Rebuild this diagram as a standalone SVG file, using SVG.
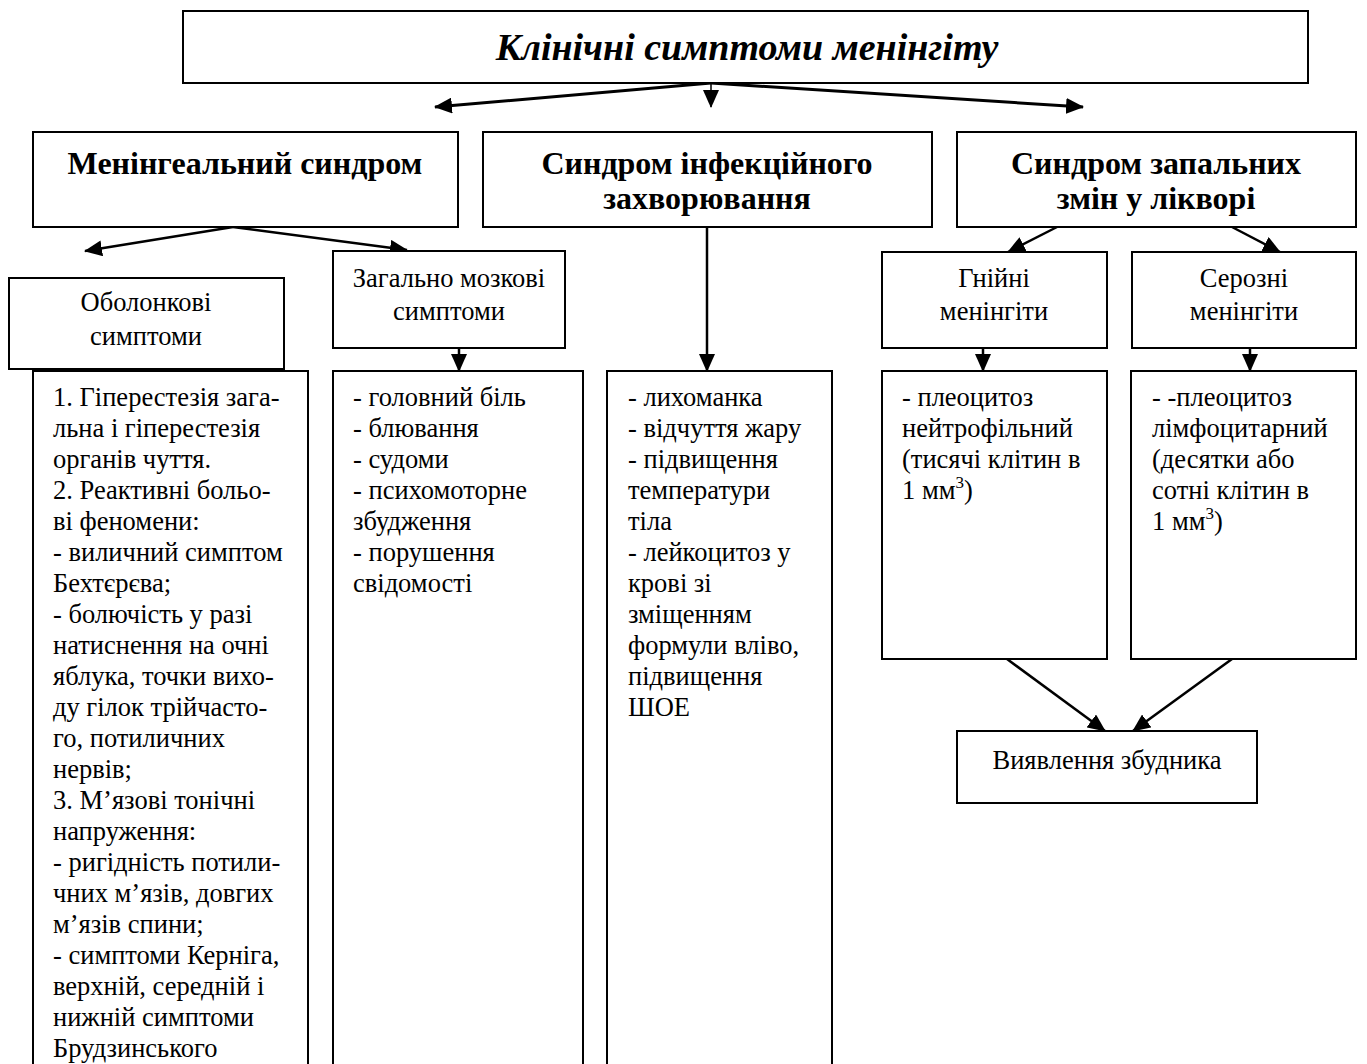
<svg xmlns="http://www.w3.org/2000/svg" width="1367" height="1064" viewBox="0 0 1367 1064">
  <style>
    .box { fill: #ffffff; stroke: #000000; stroke-width: 2; }
    .t { font-family: "Liberation Serif", "Times New Roman", serif; fill: #000000; }
    .title { font-size: 38px; font-weight: bold; font-style: italic; text-anchor: middle; }
    .head { font-size: 32px; font-weight: bold; text-anchor: middle; }
    .lbl { font-size: 26.5px; text-anchor: middle; }
    .body { font-size: 26.5px; }
    .conn { fill: none; stroke: #000000; stroke-width: 2.5; }
    .thin { stroke-width: 1.5; }
    .thick { stroke-width: 3; }
  </style>
  <defs>
    <marker id="arrow" markerUnits="userSpaceOnUse" markerWidth="18" markerHeight="16" refX="17" refY="8" orient="auto">
      <path d="M0,0 L18,8 L0,16 z" fill="#000000"/>
    </marker>
  </defs>

  <rect width="1367" height="1064" fill="#ffffff"/>

  <!-- connectors -->
  <g id="connectors">
    <line class="conn thick" x1="711" y1="83" x2="435" y2="107" marker-end="url(#arrow)"/>
    <line class="conn thin" x1="711" y1="83" x2="711" y2="107" marker-end="url(#arrow)"/>
    <line class="conn thick" x1="711" y1="83" x2="1083" y2="107" marker-end="url(#arrow)"/>

    <line class="conn" x1="233" y1="227" x2="85" y2="251" marker-end="url(#arrow)"/>
    <line class="conn" x1="233" y1="227" x2="407" y2="250" marker-end="url(#arrow)"/>
    <line class="conn" x1="459" y1="348" x2="459" y2="371" marker-end="url(#arrow)"/>

    <line class="conn" x1="707" y1="227" x2="707" y2="371" marker-end="url(#arrow)"/>

    <line class="conn" x1="1057" y1="227" x2="1008" y2="252" marker-end="url(#arrow)"/>
    <line class="conn" x1="1232" y1="227" x2="1280" y2="252" marker-end="url(#arrow)"/>
    <line class="conn" x1="983" y1="348" x2="983" y2="371" marker-end="url(#arrow)"/>
    <line class="conn" x1="1250" y1="348" x2="1250" y2="371" marker-end="url(#arrow)"/>

    <line class="conn" x1="1007" y1="659" x2="1105" y2="731" marker-end="url(#arrow)"/>
    <line class="conn" x1="1232" y1="659" x2="1133" y2="731" marker-end="url(#arrow)"/>
  </g>

  <!-- title -->
  <g id="title">
    <rect class="box" x="183" y="11" width="1125" height="72"/>
    <text class="t title" x="747" y="60">Клінічні симптоми менінгіту</text>
  </g>

  <!-- three syndromes -->
  <g id="meningeal">
    <rect class="box" x="33" y="132" width="425" height="95"/>
    <text class="t head" x="245" y="174">Менінгеальний синдром</text>
  </g>
  <g id="infection">
    <rect class="box" x="483" y="132" width="449" height="95"/>
    <text class="t head" x="707" y="174">Синдром інфекційного</text>
    <text class="t head" x="707" y="209">захворювання</text>
  </g>
  <g id="csf">
    <rect class="box" x="957" y="132" width="399" height="95"/>
    <text class="t head" x="1156" y="174">Синдром запальних</text>
    <text class="t head" x="1156" y="209">змін у лікворі</text>
  </g>

  <!-- meningeal branch -->
  <g id="membrane">
    <rect class="box" x="9" y="278" width="275" height="91"/>
    <text class="t lbl" x="146" y="311">Оболонкові</text>
    <text class="t lbl" x="146" y="345">симптоми</text>
  </g>
  <g id="cerebral">
    <rect class="box" x="333" y="251" width="232" height="97"/>
    <text class="t lbl" x="449" y="287">Загально мозкові</text>
    <text class="t lbl" x="449" y="320">симптоми</text>
  </g>

  <g id="membrane-list">
    <rect class="box" x="33" y="371" width="275" height="710"/>
    <text class="t body" x="53" y="406">
      <tspan x="53">1. Гіперестезія зага-</tspan>
      <tspan x="53" dy="31">льна і гіперестезія</tspan>
      <tspan x="53" dy="31">органів чуття.</tspan>
      <tspan x="53" dy="31">2. Реактивні больо-</tspan>
      <tspan x="53" dy="31">ві феномени:</tspan>
      <tspan x="53" dy="31">- виличний симптом</tspan>
      <tspan x="53" dy="31">Бехтєрєва;</tspan>
      <tspan x="53" dy="31">- болючість у разі</tspan>
      <tspan x="53" dy="31">натиснення на очні</tspan>
      <tspan x="53" dy="31">яблука, точки вихо-</tspan>
      <tspan x="53" dy="31">ду гілок трійчасто-</tspan>
      <tspan x="53" dy="31">го, потиличних</tspan>
      <tspan x="53" dy="31">нервів;</tspan>
      <tspan x="53" dy="31">3. М’язові тонічні</tspan>
      <tspan x="53" dy="31">напруження:</tspan>
      <tspan x="53" dy="31">- ригідність потили-</tspan>
      <tspan x="53" dy="31">чних м’язів, довгих</tspan>
      <tspan x="53" dy="31">м’язів спини;</tspan>
      <tspan x="53" dy="31">- симптоми Керніга,</tspan>
      <tspan x="53" dy="31">верхній, середній і</tspan>
      <tspan x="53" dy="31">нижній симптоми</tspan>
      <tspan x="53" dy="31">Брудзинського</tspan>
    </text>
  </g>

  <g id="cerebral-list">
    <rect class="box" x="333" y="371" width="250" height="710"/>
    <text class="t body" x="353" y="406">
      <tspan x="353">- головний біль</tspan>
      <tspan x="353" dy="31">- блювання</tspan>
      <tspan x="353" dy="31">- судоми</tspan>
      <tspan x="353" dy="31">- психомоторне</tspan>
      <tspan x="353" dy="31">збудження</tspan>
      <tspan x="353" dy="31">- порушення</tspan>
      <tspan x="353" dy="31">свідомості</tspan>
    </text>
  </g>

  <g id="infection-list">
    <rect class="box" x="607" y="371" width="225" height="710"/>
    <text class="t body" x="628" y="406">
      <tspan x="628">- лихоманка</tspan>
      <tspan x="628" dy="31">- відчуття жару</tspan>
      <tspan x="628" dy="31">- підвищення</tspan>
      <tspan x="628" dy="31">температури</tspan>
      <tspan x="628" dy="31">тіла</tspan>
      <tspan x="628" dy="31">- лейкоцитоз у</tspan>
      <tspan x="628" dy="31">крові зі</tspan>
      <tspan x="628" dy="31">зміщенням</tspan>
      <tspan x="628" dy="31">формули вліво,</tspan>
      <tspan x="628" dy="31">підвищення</tspan>
      <tspan x="628" dy="31">ШОЕ</tspan>
    </text>
  </g>

  <!-- csf branch -->
  <g id="purulent">
    <rect class="box" x="882" y="252" width="225" height="96"/>
    <text class="t lbl" x="994" y="287">Гнійні</text>
    <text class="t lbl" x="994" y="320">менінгіти</text>
  </g>
  <g id="serous">
    <rect class="box" x="1132" y="252" width="224" height="96"/>
    <text class="t lbl" x="1244" y="287">Серозні</text>
    <text class="t lbl" x="1244" y="320">менінгіти</text>
  </g>

  <g id="purulent-csf">
    <rect class="box" x="882" y="371" width="225" height="288"/>
    <text class="t body" x="902" y="406">
      <tspan x="902">- плеоцитоз</tspan>
      <tspan x="902" dy="31">нейтрофільний</tspan>
      <tspan x="902" dy="31">(тисячі клітин в</tspan>
      <tspan x="902" dy="31">1 мм<tspan dy="-11" font-size="17">3</tspan><tspan dy="11">)</tspan></tspan>
    </text>
  </g>
  <g id="serous-csf">
    <rect class="box" x="1131" y="371" width="225" height="288"/>
    <text class="t body" x="1152" y="406">
      <tspan x="1152">- -плеоцитоз</tspan>
      <tspan x="1152" dy="31">лімфоцитарний</tspan>
      <tspan x="1152" dy="31">(десятки або</tspan>
      <tspan x="1152" dy="31">сотні клітин в</tspan>
      <tspan x="1152" dy="31">1 мм<tspan dy="-11" font-size="17">3</tspan><tspan dy="11">)</tspan></tspan>
    </text>
  </g>

  <g id="pathogen">
    <rect class="box" x="957" y="731" width="300" height="72"/>
    <text class="t lbl" x="1107" y="769">Виявлення збудника</text>
  </g>
</svg>
